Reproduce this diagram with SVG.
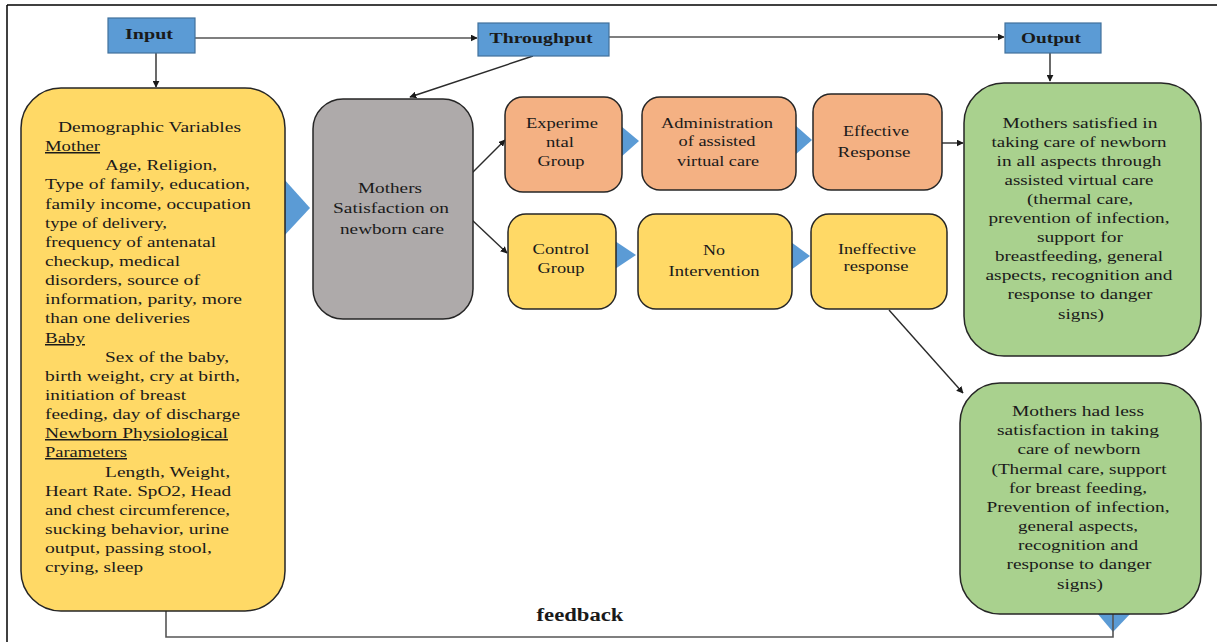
<svg xmlns="http://www.w3.org/2000/svg" width="1217" height="642" viewBox="0 0 1217 642">
<style>
  .t{font-family:"Liberation Serif","Times New Roman",serif;font-size:15px;fill:#1a1a1a}
  .c{text-anchor:middle}
  .u{text-decoration:underline}
  .h{font-family:"Liberation Serif","Times New Roman",serif;font-size:15px;font-weight:bold;fill:#1a1a1a;text-anchor:middle}
  .hb{fill:#5B9BD5;stroke:#41719C;stroke-width:1.2}
  .box{stroke:#262626;stroke-width:1.5}
  .tri{fill:#5B9BD5;stroke:none}
  .ln{fill:none;stroke:#2b2b2b;stroke-width:1.4}
  .lg{fill:none;stroke:#555;stroke-width:1.6}
</style>
<defs>
  <marker id="ah" viewBox="0 0 10 10" refX="9" refY="5" markerWidth="7" markerHeight="7" markerUnits="userSpaceOnUse" orient="auto">
    <path d="M0,0 L10,5 L0,10 z" fill="#1a1a1a"/>
  </marker>
</defs>
<rect width="1217" height="642" fill="#fff"/>
<g id="frame">
  <line x1="7" y1="5" x2="1217" y2="5" stroke="#000" stroke-width="1.5"/>
  <line x1="7" y1="5" x2="7" y2="642" stroke="#000" stroke-width="1.5"/>
  <rect x="21" y="339" width="2" height="20" fill="#1F3C88"/>
</g>

<g id="triangles">
  <polygon class="tri" points="283,178 310,208 283,237"/>
  <polygon class="tri" points="621,126 639,141 621,157"/>
  <polygon class="tri" points="795,125 812,140 795,155"/>
  <polygon class="tri" points="615,241 636,255 615,269"/>
  <polygon class="tri" points="791,242 810,256 791,270"/>
  <polygon class="tri" points="1097,613 1131,613 1113,632"/>
</g>

<g id="connectors">
  <line class="ln" x1="156" y1="53" x2="156" y2="87" marker-end="url(#ah)"/>
  <line class="lg" x1="195" y1="38" x2="477" y2="38" marker-end="url(#ah)"/>
  <line class="lg" x1="609" y1="37" x2="1004" y2="37" marker-end="url(#ah)"/>
  <line class="ln" x1="1050" y1="53" x2="1050" y2="81" marker-end="url(#ah)"/>
  <line class="ln" x1="533" y1="56" x2="410" y2="97" marker-end="url(#ah)"/>
  <line class="ln" x1="472" y1="173" x2="505" y2="140" marker-end="url(#ah)"/>
  <line class="ln" x1="472" y1="220" x2="507" y2="253" marker-end="url(#ah)"/>
  <line class="ln" x1="942" y1="143" x2="963" y2="143" marker-end="url(#ah)"/>
  <line class="ln" x1="889" y1="310" x2="963" y2="393" marker-end="url(#ah)"/>
  <polyline class="lg" points="166,611 166,637 1113,637 1113,607"/>
</g>

<g id="input">
  <rect class="hb" x="108" y="18" width="87" height="35"/>
  <text class="h" x="149" y="39" textLength="48" lengthAdjust="spacingAndGlyphs">Input</text>
</g>
<g id="throughput">
  <rect class="hb" x="478" y="23" width="131" height="33"/>
  <text class="h" x="541" y="43" textLength="103" lengthAdjust="spacingAndGlyphs">Throughput</text>
</g>
<g id="output">
  <rect class="hb" x="1005" y="23" width="96" height="30"/>
  <text class="h" x="1051" y="43" textLength="60" lengthAdjust="spacingAndGlyphs">Output</text>
</g>

<g id="variables">
  <rect class="box" x="21" y="88" width="264" height="523" rx="40" fill="#FFD966"/>
  <text class="t" x="58" y="132" textLength="183" lengthAdjust="spacingAndGlyphs">Demographic  Variables</text>
  <text class="t u" x="45" y="151" textLength="55" lengthAdjust="spacingAndGlyphs">Mother</text>
  <text class="t" x="105" y="170" textLength="112" lengthAdjust="spacingAndGlyphs">Age, Religion,</text>
  <text class="t" x="45" y="189" textLength="205" lengthAdjust="spacingAndGlyphs">Type of family, education,</text>
  <text class="t" x="45" y="209" textLength="206" lengthAdjust="spacingAndGlyphs">family income, occupation</text>
  <text class="t" x="45" y="228" textLength="122" lengthAdjust="spacingAndGlyphs">type of delivery,</text>
  <text class="t" x="45" y="247" textLength="171" lengthAdjust="spacingAndGlyphs">frequency  of antenatal</text>
  <text class="t" x="45" y="266" textLength="135" lengthAdjust="spacingAndGlyphs">checkup,  medical</text>
  <text class="t" x="45" y="285" textLength="155" lengthAdjust="spacingAndGlyphs">disorders, source of</text>
  <text class="t" x="45" y="304" textLength="197" lengthAdjust="spacingAndGlyphs">information, parity, more</text>
  <text class="t" x="45" y="323" textLength="145" lengthAdjust="spacingAndGlyphs">than one deliveries</text>
  <text class="t u" x="45" y="343" textLength="40" lengthAdjust="spacingAndGlyphs">Baby</text>
  <text class="t" x="105" y="362" textLength="124" lengthAdjust="spacingAndGlyphs">Sex of the baby,</text>
  <text class="t" x="45" y="381" textLength="195" lengthAdjust="spacingAndGlyphs">birth weight, cry at birth,</text>
  <text class="t" x="45" y="400" textLength="141" lengthAdjust="spacingAndGlyphs">initiation of breast</text>
  <text class="t" x="45" y="419" textLength="195" lengthAdjust="spacingAndGlyphs">feeding, day of discharge</text>
  <text class="t u" x="45" y="438" textLength="183" lengthAdjust="spacingAndGlyphs">Newborn  Physiological</text>
  <text class="t u" x="45" y="457" textLength="82" lengthAdjust="spacingAndGlyphs">Parameters</text>
  <text class="t" x="105" y="477" textLength="125" lengthAdjust="spacingAndGlyphs">Length, Weight,</text>
  <text class="t" x="45" y="496" textLength="186" lengthAdjust="spacingAndGlyphs">Heart Rate. SpO2, Head</text>
  <text class="t" x="45" y="515" textLength="185" lengthAdjust="spacingAndGlyphs">and chest circumference,</text>
  <text class="t" x="45" y="534" textLength="184" lengthAdjust="spacingAndGlyphs">sucking behavior, urine</text>
  <text class="t" x="45" y="553" textLength="167" lengthAdjust="spacingAndGlyphs">output, passing stool,</text>
  <text class="t" x="45" y="572" textLength="98" lengthAdjust="spacingAndGlyphs">crying, sleep</text>
</g>

<g id="satisfaction">
  <rect class="box" x="313" y="99" width="160" height="220" rx="30" fill="#AEAAAA"/>
  <text class="t c" x="390" y="193" textLength="64" lengthAdjust="spacingAndGlyphs">Mothers</text>
  <text class="t c" x="391" y="213" textLength="116" lengthAdjust="spacingAndGlyphs">Satisfaction  on</text>
  <text class="t c" x="392" y="234" textLength="104" lengthAdjust="spacingAndGlyphs">newborn  care</text>
</g>

<g id="experimental">
  <rect class="box" x="505" y="97" width="117" height="95" rx="18" fill="#F4B183"/>
  <text class="t c" x="562" y="128" textLength="72" lengthAdjust="spacingAndGlyphs">Experime</text>
  <text class="t c" x="560" y="147" textLength="28" lengthAdjust="spacingAndGlyphs">ntal</text>
  <text class="t c" x="561" y="166" textLength="47" lengthAdjust="spacingAndGlyphs">Group</text>
</g>

<g id="administration">
  <rect class="box" x="642" y="97" width="154" height="93" rx="18" fill="#F4B183"/>
  <text class="t c" x="717" y="128" textLength="112" lengthAdjust="spacingAndGlyphs">Administration</text>
  <text class="t c" x="717" y="146" textLength="77" lengthAdjust="spacingAndGlyphs">of assisted</text>
  <text class="t c" x="718" y="166" textLength="82" lengthAdjust="spacingAndGlyphs">virtual care</text>
</g>

<g id="effective">
  <rect class="box" x="813" y="94" width="129" height="96" rx="18" fill="#F4B183"/>
  <text class="t c" x="876" y="136" textLength="66" lengthAdjust="spacingAndGlyphs">Effective</text>
  <text class="t c" x="874" y="157" textLength="73" lengthAdjust="spacingAndGlyphs">Response</text>
</g>

<g id="control">
  <rect class="box" x="508" y="214" width="108" height="95" rx="18" fill="#FFD966"/>
  <text class="t c" x="561" y="254" textLength="57" lengthAdjust="spacingAndGlyphs">Control</text>
  <text class="t c" x="561" y="273" textLength="47" lengthAdjust="spacingAndGlyphs">Group</text>
</g>

<g id="nointervention">
  <rect class="box" x="638" y="214" width="154" height="95" rx="18" fill="#FFD966"/>
  <text class="t c" x="714" y="255" textLength="22" lengthAdjust="spacingAndGlyphs">No</text>
  <text class="t c" x="714" y="276" textLength="91" lengthAdjust="spacingAndGlyphs">Intervention</text>
</g>

<g id="ineffective">
  <rect class="box" x="811" y="214" width="136" height="95" rx="18" fill="#FFD966"/>
  <text class="t c" x="877" y="254" textLength="78" lengthAdjust="spacingAndGlyphs">Ineffective</text>
  <text class="t c" x="876" y="271" textLength="65" lengthAdjust="spacingAndGlyphs">response</text>
</g>

<g id="satisfied">
  <rect class="box" x="964" y="83" width="237" height="273" rx="40" fill="#A9D18E"/>
  <text class="t c" x="1080" y="128" textLength="155" lengthAdjust="spacingAndGlyphs">Mothers  satisfied  in</text>
  <text class="t c" x="1079" y="147" textLength="175" lengthAdjust="spacingAndGlyphs">taking care  of newborn</text>
  <text class="t c" x="1079" y="166" textLength="165" lengthAdjust="spacingAndGlyphs">in all aspects  through</text>
  <text class="t c" x="1079" y="185" textLength="149" lengthAdjust="spacingAndGlyphs">assisted  virtual care</text>
  <text class="t c" x="1080" y="204" textLength="106" lengthAdjust="spacingAndGlyphs">(thermal  care,</text>
  <text class="t c" x="1079" y="223" textLength="181" lengthAdjust="spacingAndGlyphs">prevention  of infection,</text>
  <text class="t c" x="1080" y="242" textLength="86" lengthAdjust="spacingAndGlyphs">support  for</text>
  <text class="t c" x="1079" y="261" textLength="168" lengthAdjust="spacingAndGlyphs">breastfeeding,   general</text>
  <text class="t c" x="1079" y="280" textLength="187" lengthAdjust="spacingAndGlyphs">aspects, recognition  and</text>
  <text class="t c" x="1080" y="299" textLength="145" lengthAdjust="spacingAndGlyphs">response  to danger</text>
  <text class="t c" x="1081" y="319" textLength="46" lengthAdjust="spacingAndGlyphs">signs)</text>
</g>

<g id="lesssatisfied">
  <rect class="box" x="960" y="383" width="241" height="231" rx="40" fill="#A9D18E"/>
  <text class="t c" x="1078" y="416" textLength="132" lengthAdjust="spacingAndGlyphs">Mothers  had  less</text>
  <text class="t c" x="1078" y="435" textLength="162" lengthAdjust="spacingAndGlyphs">satisfaction  in taking</text>
  <text class="t c" x="1079" y="454" textLength="123" lengthAdjust="spacingAndGlyphs">care  of newborn</text>
  <text class="t c" x="1079" y="474" textLength="175" lengthAdjust="spacingAndGlyphs">(Thermal  care,  support</text>
  <text class="t c" x="1078" y="493" textLength="138" lengthAdjust="spacingAndGlyphs">for breast  feeding,</text>
  <text class="t c" x="1078" y="512" textLength="183" lengthAdjust="spacingAndGlyphs">Prevention  of infection,</text>
  <text class="t c" x="1078" y="531" textLength="120" lengthAdjust="spacingAndGlyphs">general  aspects,</text>
  <text class="t c" x="1078" y="550" textLength="120" lengthAdjust="spacingAndGlyphs">recognition  and</text>
  <text class="t c" x="1079" y="569" textLength="145" lengthAdjust="spacingAndGlyphs">response  to danger</text>
  <text class="t c" x="1080" y="589" textLength="46" lengthAdjust="spacingAndGlyphs">signs)</text>
</g>

<g id="feedback">
  <text class="h" x="580" y="621" style="font-size:18px" textLength="87" lengthAdjust="spacingAndGlyphs">feedback</text>
</g>
</svg>
